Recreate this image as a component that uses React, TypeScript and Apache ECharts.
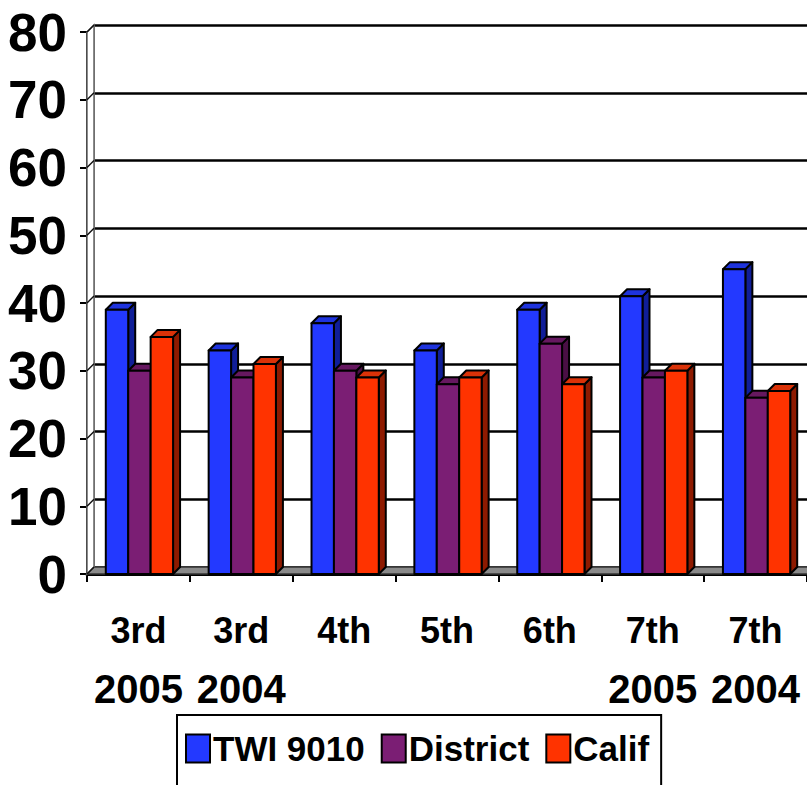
import React, { useEffect, useRef } from "react";
import * as echarts from "echarts";

const grades = ["3rd", "3rd", "4th", "5th", "6th", "7th", "7th"];
const years = ["2005", "2004", "", "", "", "2005", "2004"];
const categories = grades.map((g, i) => (years[i] ? `${g}\n${years[i]}` : g));
const seriesNames = ["TWI 9010", "District", "Calif"];
const twi = [39, 33, 37, 33, 39, 41, 45];
const district = [30, 29, 30, 28, 34, 29, 26];
const calif = [35, 31, 29, 29, 28, 30, 27];
const yTicks = [0, 10, 20, 30, 40, 50, 60, 70, 80];

const DX = 7;
const DY = -7;
const FONT = "'Liberation Sans', Arial, Helvetica, sans-serif";

const palettes = [
  { front: "#2339FF", side: "#101E98", top: "#1E33DD" },
  { front: "#7B1E74", side: "#4A0F45", top: "#661860" },
  { front: "#FF3300", side: "#8E1A00", top: "#DA3208" },
];

const makeBar = (s: number) => (params: any, api: any) => {
  const ci = api.value(0);
  const v = api.value(1);
  const b = api.coord([ci, 0]);
  const t = api.coord([ci, v]);
  const band = api.size([1, 0])[0];
  const bw = band * 0.218;
  const x0 = b[0] - 1.5 * bw + s * bw + 1;
  const x1 = x0 + bw;
  const p = palettes[s];
  const stroke = { stroke: "#000", lineWidth: 2, lineJoin: "round" };
  return {
    type: "group",
    children: [
      {
        type: "polygon",
        shape: { points: [[x1, t[1]], [x1 + DX, t[1] + DY], [x1 + DX, b[1] + DY], [x1, b[1]]] },
        style: { fill: p.side, ...stroke },
      },
      {
        type: "polygon",
        shape: { points: [[x0, t[1]], [x0 + DX, t[1] + DY], [x1 + DX, t[1] + DY], [x1, t[1]]] },
        style: { fill: p.top, ...stroke },
      },
      {
        type: "rect",
        shape: { x: x0, y: t[1], width: bw, height: b[1] - t[1] },
        style: { fill: p.front, ...stroke },
      },
    ],
  };
};

const renderWall = (params: any, api: any) => {
  const band = api.size([1, 0])[0];
  const c0 = api.coord([0, 0]);
  const left = c0[0] - band / 2;
  const right = left + band * categories.length;
  const y0 = c0[1];
  const yTop = api.coord([0, yTicks[yTicks.length - 1]])[1];
  const children: any[] = [
    {
      type: "polygon",
      shape: { points: [[left, y0], [left + DX, y0 + DY], [right + DX + 30, y0 + DY], [right + 30, y0]] },
      style: { fill: "#8a8a8a", stroke: "#333", lineWidth: 1.5 },
    },
    {
      type: "polygon",
      shape: { points: [[left, y0], [left, yTop], [left + DX, yTop + DY], [left + DX, y0 + DY]] },
      style: { fill: "#ffffff", stroke: "#666", lineWidth: 1.5 },
    },
  ];
  yTicks.forEach((tk) => {
    const y = api.coord([0, tk])[1];
    children.push({
      type: "line",
      shape: { x1: left, y1: y, x2: left + DX, y2: y + DY },
      style: { stroke: "#111", lineWidth: 1.5 },
    });
  });
  return { type: "group", children };
};

export default function App() {
  const ref = useRef<HTMLDivElement>(null);
  useEffect(() => {
    if (!ref.current) return;
    const chart = echarts.init(ref.current, undefined, { renderer: "svg" });
    const seriesData = [twi, district, calif];
    chart.setOption({
      animation: false,
      backgroundColor: "#ffffff",
      grid: [
        { left: 87, top: 32, width: 724.5, height: 542 },
        { left: 87 + DX, top: 32 + DY, width: 724.5, height: 542 },
      ],
      xAxis: [
        {
          type: "category",
          gridIndex: 0,
          data: categories,
          axisLine: { show: true, lineStyle: { color: "#000", width: 3 } },
          axisTick: { show: true, length: 8, lineStyle: { color: "#000", width: 2 } },
          splitLine: { show: false },
          axisLabel: {
            interval: 0,
            margin: 31,
            color: "#000",
            formatter: (val: string) => {
              const [g, y] = val.split("\n");
              return y ? `{g|${g}}\n{y|${y}}` : `{g|${g}}`;
            },
            rich: {
              g: { fontSize: 36, fontWeight: "bold", fontFamily: FONT, lineHeight: 50, color: "#000" },
              y: { fontSize: 40, fontWeight: "bold", fontFamily: FONT, lineHeight: 68, color: "#000" },
            },
          },
        },
        {
          type: "category",
          gridIndex: 1,
          data: categories,
          show: false,
        },
      ],
      yAxis: [
        {
          type: "value",
          gridIndex: 0,
          min: 0,
          max: 80,
          interval: 10,
          axisLine: { show: true, lineStyle: { color: "#000", width: 2 } },
          axisTick: { show: true, length: 7, lineStyle: { color: "#000", width: 2 } },
          splitLine: { show: false },
          axisLabel: {
            margin: 20,
            color: "#000",
            fontSize: 53,
            fontWeight: "bold",
            fontFamily: FONT,
          },
        },
        {
          type: "value",
          gridIndex: 1,
          min: 0,
          max: 80,
          interval: 10,
          axisLine: { show: true, lineStyle: { color: "#666", width: 1.5 } },
          axisTick: { show: false },
          axisLabel: { show: false },
          splitLine: { show: true, lineStyle: { color: "#000", width: 2.5 } },
        },
      ],
      legend: {
        data: seriesNames,
        left: 177,
        top: 715,
        orient: "horizontal",
        icon: "rect",
        itemWidth: 24,
        itemHeight: 28,
        itemGap: 16,
        padding: [16, 12, 40, 8],
        borderColor: "#000",
        borderWidth: 2,
        itemStyle: { borderColor: "#000", borderWidth: 2 },
        textStyle: { fontSize: 35, fontWeight: "bold", fontFamily: FONT, color: "#000", padding: [0, 0, 0, -2] },
      },
      series: [
        {
          type: "custom",
          name: "__wall",
          xAxisIndex: 0,
          yAxisIndex: 0,
          z: 1,
          silent: true,
          data: [[0, 0]],
          renderItem: renderWall,
        },
        ...seriesNames.map((name, s) => ({
          type: "custom",
          name,
          xAxisIndex: 0,
          yAxisIndex: 0,
          z: 3,
          itemStyle: { color: palettes[s].front },
          data: seriesData[s].map((v, i) => [i, v]),
          encode: { x: 0, y: 1 },
          renderItem: makeBar(s),
        })),
      ],
    });
    return () => chart.dispose();
  }, []);
  return (
    <div
      ref={ref}
      style={{ position: "fixed", left: 0, top: 0, width: 807, height: 785, background: "#fff" }}
    />
  );
}
